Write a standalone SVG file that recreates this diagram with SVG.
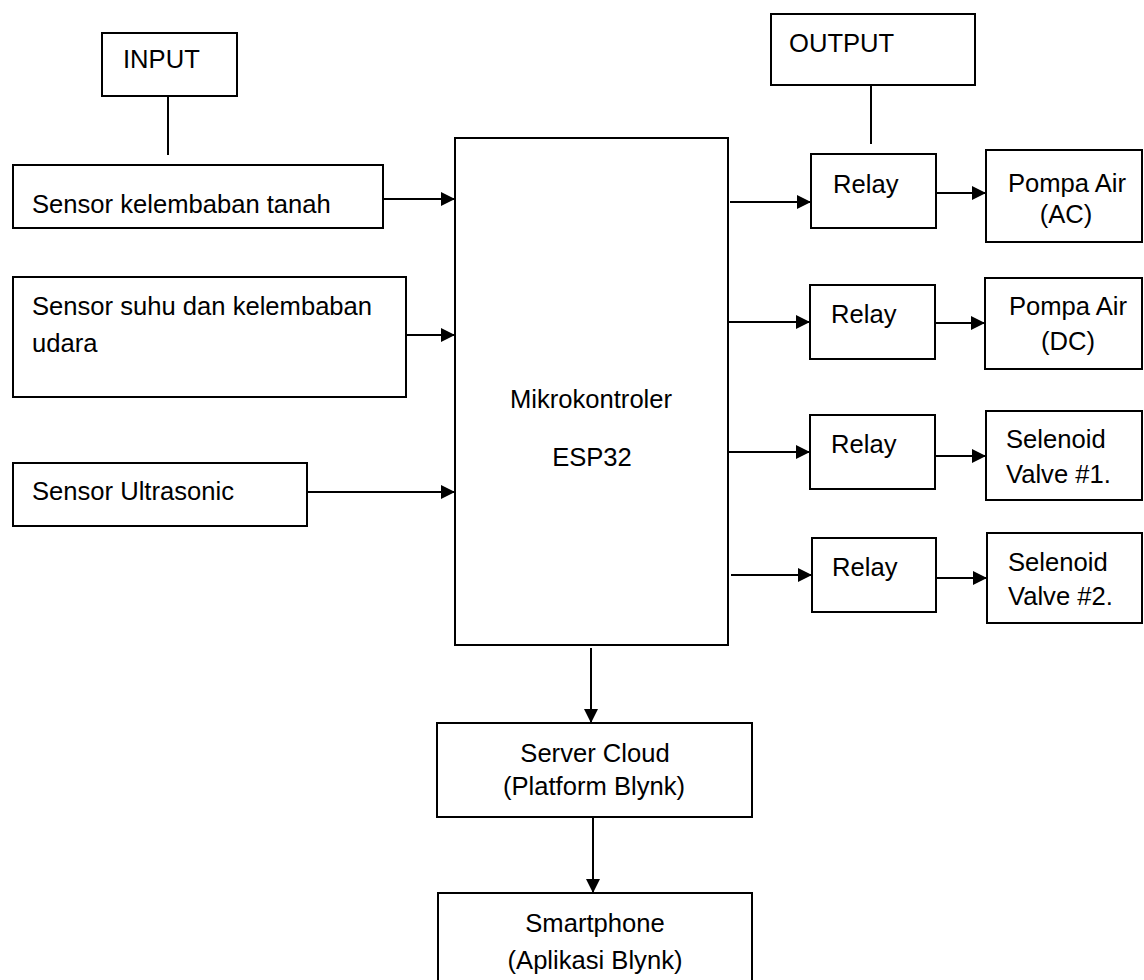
<svg xmlns="http://www.w3.org/2000/svg" width="1144" height="980" viewBox="0 0 1144 980">
<style>
.box{fill:#fff;stroke:#000;stroke-width:2}
.t{font-family:"Liberation Sans",Arial,sans-serif;font-size:25.6px;fill:#000}
.c{text-anchor:middle}
.ln{stroke:#000;stroke-width:2;fill:none}
.ar{stroke:#000;stroke-width:2;fill:none;marker-end:url(#ah)}
</style>
<defs>
<marker id="ah" markerUnits="userSpaceOnUse" markerWidth="14" markerHeight="14" refX="14" refY="7" orient="auto">
<path d="M0,0 L14,7 L0,14 z" fill="#000"/>
</marker>
</defs>
<rect width="1144" height="980" fill="#fff"/>
<g id="connectors">
<line class="ln" x1="168" y1="96" x2="168" y2="155"/>
<line class="ln" x1="871" y1="85" x2="871" y2="144"/>
<line class="ar" x1="383" y1="199" x2="455" y2="199"/>
<line class="ar" x1="406" y1="335" x2="455" y2="335"/>
<line class="ar" x1="307" y1="492" x2="455" y2="492"/>
<line class="ar" x1="730" y1="202" x2="811" y2="202"/>
<line class="ar" x1="728" y1="322" x2="810" y2="322"/>
<line class="ar" x1="728" y1="452" x2="810" y2="452"/>
<line class="ar" x1="731" y1="575" x2="812" y2="575"/>
<line class="ar" x1="936" y1="193" x2="986" y2="193"/>
<line class="ar" x1="935" y1="323" x2="985" y2="323"/>
<line class="ar" x1="935" y1="456" x2="986" y2="456"/>
<line class="ar" x1="936" y1="578" x2="987" y2="578"/>
<line class="ar" x1="591" y1="648" x2="591" y2="723"/>
<line class="ar" x1="593" y1="817" x2="593" y2="893"/>
</g>
<g id="input">
<rect class="box" x="102" y="33" width="135" height="63"/>
<text class="t" x="123" y="68">INPUT</text>
</g>
<g id="sensor-tanah">
<rect class="box" x="13" y="165" width="370" height="63"/>
<text class="t" x="32" y="213">Sensor kelembaban tanah</text>
</g>
<g id="sensor-suhu">
<rect class="box" x="13" y="277" width="393" height="120"/>
<text class="t" x="32" y="315">Sensor suhu dan kelembaban</text>
<text class="t" x="32" y="352">udara</text>
</g>
<g id="sensor-ultrasonic">
<rect class="box" x="13" y="463" width="294" height="63"/>
<text class="t" x="32" y="500">Sensor Ultrasonic</text>
</g>
<g id="mikrokontroler">
<rect class="box" x="455" y="138" width="273" height="507"/>
<text class="t c" x="591" y="408">Mikrokontroler</text>
<text class="t c" x="592" y="466">ESP32</text>
</g>
<g id="output">
<rect class="box" x="771" y="14" width="204" height="71"/>
<text class="t" x="789" y="52">OUTPUT</text>
</g>
<g id="relay1">
<rect class="box" x="811" y="154" width="125" height="74"/>
<text class="t" x="833" y="193">Relay</text>
</g>
<g id="relay2">
<rect class="box" x="810" y="285" width="125" height="74"/>
<text class="t" x="831" y="323">Relay</text>
</g>
<g id="relay3">
<rect class="box" x="810" y="415" width="125" height="74"/>
<text class="t" x="831" y="453">Relay</text>
</g>
<g id="relay4">
<rect class="box" x="812" y="538" width="124" height="74"/>
<text class="t" x="832" y="576">Relay</text>
</g>
<g id="pompa-ac">
<rect class="box" x="986" y="150" width="156" height="92"/>
<text class="t c" x="1067" y="192">Pompa Air</text>
<text class="t c" x="1066" y="223">(AC)</text>
</g>
<g id="pompa-dc">
<rect class="box" x="985" y="278" width="157" height="91"/>
<text class="t c" x="1068" y="315">Pompa Air</text>
<text class="t c" x="1068" y="350">(DC)</text>
</g>
<g id="selenoid1">
<rect class="box" x="986" y="411" width="156" height="89"/>
<text class="t" x="1006" y="448">Selenoid</text>
<text class="t" x="1006" y="483">Valve #1.</text>
</g>
<g id="selenoid2">
<rect class="box" x="987" y="533" width="155" height="90"/>
<text class="t" x="1008" y="571">Selenoid</text>
<text class="t" x="1008" y="605">Valve #2.</text>
</g>
<g id="server">
<rect class="box" x="437" y="723" width="315" height="94"/>
<text class="t c" x="595" y="762">Server Cloud</text>
<text class="t c" x="594" y="795">(Platform Blynk)</text>
</g>
<g id="smartphone">
<rect class="box" x="438" y="893" width="314" height="100"/>
<text class="t c" x="595" y="932">Smartphone</text>
<text class="t c" x="595" y="969">(Aplikasi Blynk)</text>
</g>
</svg>
